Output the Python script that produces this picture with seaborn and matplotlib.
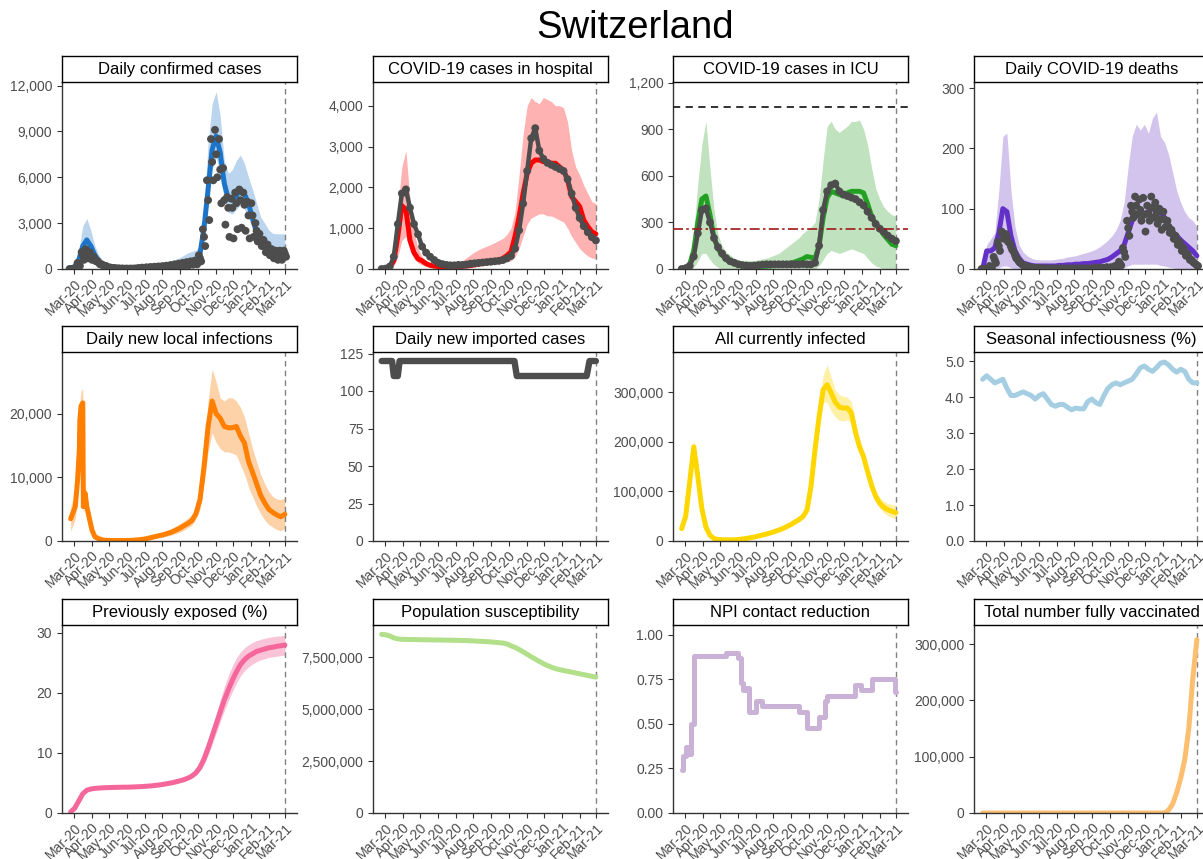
import pandas as pd
import matplotlib
matplotlib.use("Agg")
import matplotlib.pyplot as plt
from matplotlib.ticker import FuncFormatter
import seaborn as sns

sns.set_theme(style="ticks")
plt.rcParams["font.family"] = ["Liberation Sans", "DejaVu Sans"]

# ---------------- data ----------------
# weekly values, Mondays from 24 Feb 2020 to 1 Mar 2021 (54 weeks)
weeks = pd.date_range("2020-02-24", "2021-03-01", freq="7D")
weeks_early = weeks - pd.Timedelta(days=2)
weeks_late = weeks + pd.Timedelta(days=2)
end_date = pd.Timestamp("2021-03-02")
month_ticks = pd.date_range("2020-03-01", "2021-03-01", freq="MS")
month_labels = [d.strftime("%b-%y") for d in month_ticks]

# daily confirmed cases
cases_fit = [20, 150, 600, 1500, 1900, 1500, 900, 500, 300, 180,
             120, 90, 70, 60, 50, 50, 50, 60, 80, 100,
             110, 130, 140, 150, 170, 190, 220, 250, 280, 320,
             360, 400, 1000, 2700, 5200, 7800, 8700, 7600, 5600, 4600,
             4500, 4800, 5200, 4900, 4300, 3300, 2400, 1800, 1450, 1200,
             1050, 1000, 1000, 1050]
cases_hi = [100, 300, 1200, 2800, 3300, 2500, 1500, 900, 500, 350,
            250, 200, 170, 150, 150, 150, 160, 200, 220, 240,
            260, 300, 340, 400, 480, 560, 650, 750, 900, 1050,
            1150, 1250, 1500, 4000, 8200, 10800, 11600, 10000, 7100, 6250,
            6500, 7100, 7450, 6900, 6000, 5200, 4300, 3400, 3000, 2550,
            2330, 2300, 2300, 2300]
cases_lo = [0, 50, 300, 900, 1200, 1000, 600, 300, 180, 100,
            70, 50, 40, 30, 30, 30, 30, 40, 50, 60,
            70, 80, 90, 100, 110, 120, 140, 160, 180, 200,
            230, 260, 700, 2000, 4200, 6500, 7300, 6200, 4500, 3700,
            3600, 3900, 4200, 3900, 3400, 2600, 1900, 1400, 1100, 900,
            750, 700, 650, 650]
cases_obs_weekday = [0, 30, 400, 1100, 1300, 1100, 800, 500, 300, 200,
                     100, 60, 40, 30, 25, 25, 30, 60, 90, 110,
                     130, 150, 170, 190, 220, 260, 300, 350, 400, 450,
                     500, 550, 900, 2600, 5800, 8500, 9100, 8500, 6600, 4700,
                     4600, 5000, 5200, 5000, 4400, 4300, 3000, 2300, 1900, 1600,
                     1300, 1200, 1200, 1200]
cases_obs_mid = [0, 20, 300, 900, 1100, 900, 650, 400, 250, 150,
                 80, 45, 30, 22, 20, 20, 25, 45, 70, 85,
                 100, 115, 130, 145, 170, 200, 235, 275, 315, 350,
                 390, 420, 700, 2100, 4500, 7000, 7500, 6500, 4500, 4000,
                 4000, 4300, 4500, 4200, 3500, 3500, 2500, 1900, 1500, 1300,
                 1000, 900, 900, 1000]
cases_obs_weekend = [0, 10, 200, 600, 700, 600, 500, 300, 200, 100,
                     60, 30, 20, 15, 15, 15, 20, 30, 50, 60,
                     70, 80, 90, 100, 120, 140, 170, 200, 230, 250,
                     280, 300, 500, 1500, 3200, 5800, 6000, 4300, 2900, 2100,
                     2000, 2600, 2700, 2500, 2000, 2100, 1800, 1500, 1100, 900,
                     700, 600, 600, 800]

# hospital
hosp_fit = [0, 10, 50, 200, 800, 1550, 1450, 700, 400, 250,
            200, 130, 90, 70, 60, 50, 50, 50, 55, 60,
            65, 75, 85, 100, 120, 140, 170, 190, 205, 220,
            260, 330, 420, 800, 1280, 1850, 2340, 2590, 2670, 2670,
            2630, 2630, 2590, 2590, 2500, 2420, 2180, 1770, 1650, 1530,
            1200, 1040, 910, 860]
hosp_hi = [0, 20, 100, 700, 1500, 2500, 2900, 1700, 900, 500,
           300, 200, 150, 120, 100, 90, 90, 100, 120, 140,
           200, 280, 350, 420, 470, 520, 560, 600, 650, 700,
           750, 850, 1000, 1400, 2300, 3300, 4000, 4200, 4100, 4050,
           4200, 4150, 4100, 4000, 4000, 3950, 3600, 2900, 2500, 2300,
           2050, 1850, 1650, 1600]
hosp_lo = [0, 0, 10, 80, 300, 700, 800, 500, 250, 150,
           100, 70, 50, 40, 30, 30, 30, 30, 30, 30,
           30, 40, 50, 60, 70, 80, 90, 100, 110, 130,
           150, 180, 200, 300, 500, 800, 1100, 1250, 1300, 1350,
           1350, 1300, 1300, 1250, 1200, 1150, 1000, 800, 650, 500,
           400, 320, 270, 250]
hosp_obs = [0, 10, 60, 300, 1100, 1850, 1950, 1500, 1100, 850,
            550, 400, 300, 220, 150, 120, 100, 90, 90, 100,
            100, 110, 130, 140, 150, 160, 170, 180, 190, 200,
            220, 260, 320, 500, 950, 1600, 2400, 3200, 3450, 2900,
            2700, 2600, 2550, 2500, 2450, 2400, 2200, 1850, 1500, 1250,
            1050, 900, 780, 700]

# ICU
icu_fit = [0, 10, 30, 120, 300, 450, 470, 350, 200, 130,
           90, 60, 45, 35, 30, 22, 18, 15, 15, 15,
           18, 18, 20, 22, 25, 28, 32, 38, 45, 55,
           65, 80, 75, 70, 150, 330, 460, 500, 490, 480,
           470, 490, 500, 500, 500, 490, 420, 340, 290, 260,
           220, 190, 160, 150]
icu_hi = [0, 20, 60, 250, 550, 800, 950, 650, 380, 220,
          150, 110, 90, 70, 60, 55, 55, 55, 55, 60,
          65, 70, 80, 90, 100, 120, 140, 160, 180, 200,
          230, 250, 270, 300, 450, 700, 920, 950, 900, 880,
          900, 920, 950, 950, 960, 900, 800, 650, 520, 450,
          400, 370, 350, 340]
icu_lo = [0, 0, 0, 10, 50, 100, 100, 60, 30, 10,
          0, 0, 0, 0, 0, 0, 0, 0, 0, 0,
          0, 0, 0, 0, 0, 0, 0, 0, 0, 0,
          0, 0, 0, 0, 20, 60, 100, 120, 110, 100,
          110, 120, 130, 120, 110, 100, 70, 40, 20, 10,
          0, 0, 0, 0]
icu_obs = [0, 5, 20, 80, 230, 380, 390, 300, 200, 140,
           100, 70, 50, 40, 30, 25, 22, 20, 22, 25,
           28, 30, 30, 30, 30, 30, 30, 30, 30, 30,
           32, 30, 30, 40, 150, 380, 500, 540, 550, 500,
           480, 470, 460, 450, 430, 410, 370, 330, 290, 260,
           240, 215, 195, 180]
icu_capacity = 1040
icu_threshold = 258

# deaths
deaths_fit = [0, 30, 30, 35, 60, 100, 95, 55, 30, 18,
              10, 8, 6, 5, 5, 5, 5, 5, 5, 6,
              6, 7, 7, 8, 8, 9, 9, 10, 11, 12,
              14, 16, 20, 25, 30, 40, 60, 80, 90, 92,
              92, 95, 100, 100, 95, 85, 72, 62, 55, 48,
              42, 36, 30, 22]
deaths_hi = [5, 40, 50, 60, 130, 220, 225, 130, 70, 40,
             28, 22, 18, 16, 15, 15, 15, 15, 16, 17,
             18, 20, 21, 22, 24, 26, 28, 30, 33, 37,
             42, 48, 55, 65, 80, 110, 170, 220, 240, 230,
             240, 225, 250, 260, 220, 210, 190, 160, 130, 110,
             95, 85, 80, 70]
deaths_lo = [0, 0, 0, 0, 2, 5, 5, 2, 0, 0,
             0, 0, 0, 0, 0, 0, 0, 0, 0, 0,
             0, 0, 0, 0, 0, 0, 0, 0, 0, 0,
             0, 0, 0, 0, 0, 2, 5, 8, 8, 8,
             8, 8, 8, 8, 6, 5, 3, 2, 0, 0,
             0, 0, 0, 0]
deaths_obs_a = [0, 0, 5, 20, 45, 62, 58, 42, 28, 15,
                8, 5, 3, 2, 2, 1, 1, 1, 1, 1,
                1, 1, 1, 1, 1, 1, 1, 1, 2, 2,
                2, 3, 3, 5, 12, 35, 80, 105, 120, 115,
                118, 105, 120, 110, 100, 95, 80, 65, 55, 45,
                35, 25, 15, 8]
deaths_obs_mid = [0, 0, 3, 15, 38, 56, 52, 37, 23, 12,
                  6, 4, 2, 1, 1, 1, 0, 0, 0, 0,
                  0, 0, 0, 1, 0, 0, 1, 0, 1, 1,
                  1, 2, 2, 3, 9, 28, 68, 95, 105, 98,
                  90, 92, 102, 92, 82, 82, 70, 58, 48, 38,
                  28, 20, 12, 6]
deaths_obs_b = [0, 0, 2, 10, 30, 50, 45, 32, 18, 10,
                5, 3, 1, 1, 0, 0, 0, 0, 0, 0,
                0, 0, 0, 0, 0, 0, 0, 0, 0, 0,
                1, 1, 1, 2, 6, 20, 55, 85, 90, 80,
                62, 80, 85, 75, 65, 70, 60, 50, 40, 30,
                22, 15, 10, 5]

# daily new local infections (finer dates around the March 2020 spike)
local_early_dates = ["2020-02-24", "2020-03-03", "2020-03-07", "2020-03-10",
                     "2020-03-11", "2020-03-13", "2020-03-16", "2020-03-17",
                     "2020-03-20", "2020-03-23", "2020-03-28", "2020-04-01"]
local_early_fit = [3500, 5400, 9600, 14300, 19100, 21200, 21700, 5400, 7500, 5400, 3300, 1700]
local_early_hi = [5500, 7500, 12000, 17500, 22000, 23500, 24000, 7000, 9000, 6500, 4000, 2200]
local_early_lo = [1500, 3500, 7000, 11000, 15000, 17500, 18000, 4200, 6000, 4300, 2600, 1300]
local_fit = [650, 350, 150, 100,
             80, 70, 70, 70, 80, 100, 150, 200, 280, 400,
             550, 700, 850, 1000, 1200, 1400, 1700, 2000, 2400, 2750,
             3200, 4300, 6500, 11700, 18000, 22000, 20000, 19300, 18000, 17800,
             17800, 18000, 16500, 15400, 12500, 10800, 9000, 7200, 6000, 5000,
             4500, 4100, 3800, 4200]
local_hi = [1000, 550, 250, 150,
            120, 100, 100, 110, 130, 170, 250, 350, 480, 650,
            850, 1050, 1250, 1450, 1700, 2000, 2300, 2700, 3100, 3600,
            4100, 5300, 8000, 14000, 22000, 27000, 25000, 22500, 22000, 22500,
            22500, 22000, 21000, 19500, 17000, 14500, 12500, 10500, 9000, 7800,
            7000, 6600, 6500, 6800]
local_lo = [400, 200, 80, 50,
            40, 40, 40, 40, 50, 60, 100, 130, 180, 260,
            350, 450, 550, 650, 800, 950, 1150, 1400, 1700, 2100,
            2500, 3500, 5000, 9000, 14000, 17000, 15500, 14500, 14000, 14000,
            13800, 13500, 12000, 10500, 8500, 7000, 5500, 4300, 3300, 2600,
            2200, 1800, 1600, 2000]

# daily new imported cases
imported_dates = ["2020-02-24", "2020-03-13", "2020-03-16", "2020-03-23", "2020-03-26",
                  "2020-10-11", "2020-10-15", "2021-02-13", "2021-02-18", "2021-03-01"]
imported_vals = [120, 120, 110, 110, 120, 120, 110, 110, 120, 120]

# all currently infected
infected_fit = [25000, 50000, 120000, 190000, 130000, 65000, 28000, 11500, 5000, 3000,
                2500, 2300, 2300, 2500, 3000, 4000, 5000, 6500, 8000, 10000,
                12000, 14000, 16500, 19000, 22000, 25000, 29000, 33000, 38000, 43000,
                49000, 62000, 110000, 185000, 250000, 305000, 315000, 298000, 280000, 270000,
                268000, 268000, 258000, 219000, 190000, 170000, 140000, 112000, 90000, 76000,
                68000, 63000, 60000, 57000]
infected_hi = [28000, 55000, 128000, 205000, 140000, 70000, 31000, 13000, 6000, 3500,
               3000, 2800, 2800, 3000, 3500, 4500, 5500, 7000, 8800, 11000,
               13000, 15500, 18000, 21000, 24000, 27500, 32000, 36000, 41000, 47000,
               53000, 68000, 120000, 200000, 275000, 335000, 355000, 330000, 305000, 295000,
               292000, 290000, 280000, 240000, 205000, 182000, 150000, 120000, 100000, 88000,
               80000, 76000, 74000, 72000]
infected_lo = [22000, 45000, 112000, 180000, 120000, 60000, 25000, 10000, 4000, 2500,
               2000, 1800, 1800, 2000, 2500, 3500, 4500, 6000, 7200, 9000,
               11000, 12500, 15000, 17000, 20000, 22500, 26000, 30000, 35000, 39000,
               45000, 56000, 100000, 170000, 225000, 280000, 280000, 262000, 250000, 243000,
               242000, 244000, 238000, 200000, 175000, 156000, 128000, 100000, 80000, 66000,
               57000, 51000, 47000, 45000]

# seasonal infectiousness (%)
seasonal = [4.5, 4.6, 4.5, 4.4, 4.45, 4.5, 4.25, 4.05, 4.05, 4.1,
            4.15, 4.1, 4.05, 3.95, 4.05, 4.1, 3.95, 3.8, 3.75, 3.8,
            3.8, 3.72, 3.65, 3.7, 3.68, 3.68, 3.88, 3.95, 3.85, 3.8,
            4.05, 4.25, 4.35, 4.4, 4.35, 4.4, 4.45, 4.5, 4.65, 4.82,
            4.87, 4.78, 4.72, 4.82, 4.95, 4.98, 4.9, 4.78, 4.7, 4.78,
            4.72, 4.5, 4.4, 4.4]

# previously exposed (%)
exposed_fit = [0.2, 0.8, 2.0, 3.2, 3.8, 4.0, 4.1, 4.15, 4.2, 4.22,
               4.25, 4.27, 4.28, 4.3, 4.3, 4.32, 4.35, 4.38, 4.42, 4.47,
               4.52, 4.6, 4.68, 4.78, 4.9, 5.02, 5.18, 5.35, 5.55, 5.8,
               6.15, 6.7, 7.6, 9.0, 10.8, 12.8, 14.8, 16.8, 18.8, 20.5,
               22.1, 23.5, 24.7, 25.5, 26.1, 26.5, 26.9, 27.1, 27.3, 27.5,
               27.6, 27.75, 27.85, 27.95]
exposed_hi = [0.3, 0.9, 2.2, 3.4, 4.0, 4.2, 4.3, 4.35, 4.4, 4.42,
              4.45, 4.47, 4.48, 4.5, 4.5, 4.52, 4.55, 4.58, 4.62, 4.67,
              4.72, 4.8, 4.88, 4.98, 5.1, 5.22, 5.38, 5.55, 5.75, 6.0,
              6.4, 7.1, 8.3, 10.0, 12.0, 14.2, 16.5, 18.8, 21.0, 22.9,
              24.5, 25.8, 26.8, 27.5, 28.0, 28.4, 28.7, 28.9, 29.1, 29.25,
              29.35, 29.45, 29.5, 29.6]
exposed_lo = [0.1, 0.7, 1.8, 3.0, 3.6, 3.8, 3.9, 3.95, 4.0, 4.02,
              4.05, 4.07, 4.08, 4.1, 4.1, 4.12, 4.15, 4.18, 4.22, 4.27,
              4.32, 4.4, 4.48, 4.58, 4.7, 4.82, 4.98, 5.15, 5.35, 5.6,
              5.9, 6.3, 7.0, 8.1, 9.6, 11.4, 13.3, 15.2, 17.0, 18.7,
              20.2, 21.6, 22.8, 23.7, 24.3, 24.8, 25.2, 25.5, 25.7, 25.9,
              26.0, 26.1, 26.2, 26.3]

# population susceptibility
susceptible = [8600000, 8580000, 8520000, 8430000, 8380000, 8360000, 8355000, 8350000, 8350000, 8345000,
               8340000, 8340000, 8335000, 8330000, 8330000, 8325000, 8320000, 8320000, 8315000, 8310000,
               8305000, 8300000, 8290000, 8280000, 8270000, 8260000, 8250000, 8235000, 8220000, 8200000,
               8180000, 8140000, 8050000, 7970000, 7870000, 7760000, 7640000, 7520000, 7410000, 7300000,
               7190000, 7100000, 7020000, 6950000, 6900000, 6860000, 6820000, 6780000, 6740000, 6700000,
               6660000, 6620000, 6580000, 6540000]

# NPI contact reduction (step changes)
npi_dates = ["2020-02-24", "2020-02-27", "2020-03-02", "2020-03-06", "2020-03-12", "2020-03-16",
             "2020-05-11", "2020-06-01", "2020-06-06", "2020-06-10", "2020-06-14", "2020-06-20",
             "2020-07-02", "2020-07-13", "2020-09-14", "2020-09-28", "2020-10-19", "2020-10-30",
             "2020-11-02", "2020-12-21", "2020-12-31", "2021-01-18", "2021-02-27", "2021-03-01"]
npi_vals = [0.24, 0.32, 0.37, 0.33, 0.50, 0.88,
            0.90, 0.87, 0.73, 0.69, 0.70, 0.57,
            0.63, 0.60, 0.57, 0.48, 0.54, 0.63,
            0.66, 0.72, 0.69, 0.75, 0.68, 0.68]

# total number fully vaccinated
vacc_dates = ["2020-02-24", "2021-01-04", "2021-01-11", "2021-01-18", "2021-01-25",
              "2021-02-01", "2021-02-08", "2021-02-15", "2021-02-22", "2021-03-01"]
vacc_vals = [0, 0, 5000, 16000, 36000, 62000, 95000, 150000, 240000, 308000]

# ---------------- layout ----------------
W, H = 1203, 859
fig = plt.figure(figsize=(W / 100, H / 100), dpi=100)
col_left = [62, 373, 673, 974]
row_top = [82, 352, 625]
row_bottom = [269, 541, 813]
ax_w = 235
strip_h = 26
x_start, x_end = pd.Timestamp("2020-02-09"), pd.Timestamp("2021-03-22")
DOT = "#4D4D4D"


def make_axes(row, col, title):
    l, t, b = col_left[col], row_top[row], row_bottom[row]
    ax = fig.add_axes([l / W, 1 - b / H, ax_w / W, (b - t) / H])
    st = fig.add_axes([l / W, 1 - t / H, ax_w / W, strip_h / H])
    st.set_xticks([])
    st.set_yticks([])
    st.set_facecolor("white")
    for s in st.spines.values():
        s.set_color("black")
        s.set_linewidth(1.0)
    st.text(0.5, 0.47, title, ha="center", va="center", fontsize=12,
            color="black", transform=st.transAxes)
    return ax


def finish(ax, ymax, yticks, fmt="{:,.0f}"):
    ax.axvline(end_date, color="#808080", lw=1.0, ls=(0, (4, 3)), zorder=1)
    ax.set_xlim(x_start, x_end)
    ax.set_ylim(0, ymax)
    ax.set_yticks(yticks)
    ax.yaxis.set_major_formatter(FuncFormatter(lambda v, p: fmt.format(v)))
    ax.set_xticks(month_ticks)
    ax.set_xticklabels(month_labels, rotation=45, ha="right", rotation_mode="anchor")
    ax.set_xlabel("")
    ax.set_ylabel("")
    sns.despine(ax=ax)
    for s in ["left", "bottom"]:
        ax.spines[s].set_color("#333333")
        ax.spines[s].set_linewidth(1.0)
    ax.tick_params(axis="both", colors="#333333", labelcolor="#4D4D4D",
                   length=3.5, width=0.8, labelsize=10)
    ax.tick_params(axis="x", labelsize=10, pad=2)


def band(ax, x, lo, hi, color):
    ax.fill_between(x, lo, hi, color=color, lw=0, zorder=1)


def line(ax, x, y, color, lw=3.6, **kw):
    sns.lineplot(x=x, y=y, ax=ax, color=color, linewidth=lw, legend=False, zorder=2, **kw)


def dots(ax, x, y, s=32):
    sns.scatterplot(x=x, y=y, ax=ax, color=DOT, s=s, edgecolor="none", linewidth=0,
                    legend=False, zorder=3)


# row 1
ax = make_axes(0, 0, "Daily confirmed cases")
band(ax, weeks, cases_lo, cases_hi, "#BBD5EE")
line(ax, weeks, cases_fit, "#1C75C8")
dots(ax, weeks_early, cases_obs_weekday)
dots(ax, weeks, cases_obs_mid)
dots(ax, weeks_late, cases_obs_weekend)
finish(ax, 12230, [0, 3000, 6000, 9000, 12000])

ax = make_axes(0, 1, "COVID-19 cases in hospital")
band(ax, weeks, hosp_lo, hosp_hi, "#FFB2B2")
line(ax, weeks, hosp_fit, "#FF0000")
line(ax, weeks, hosp_obs, DOT, lw=3.2)
dots(ax, weeks, hosp_obs)
finish(ax, 4580, [0, 1000, 2000, 3000, 4000])

ax = make_axes(0, 2, "COVID-19 cases in ICU")
band(ax, weeks, icu_lo, icu_hi, "#C0E2BE")
line(ax, weeks, icu_fit, "#22A022")
line(ax, weeks, icu_obs, DOT, lw=3.2)
dots(ax, weeks, icu_obs)
ax.axhline(icu_capacity, color="#222222", lw=1.3, ls=(0, (4, 3)), zorder=4)
ax.axhline(icu_threshold, color="#A01818", lw=1.2, ls=(0, (6, 2, 1.5, 2)), zorder=4)
finish(ax, 1204, [0, 300, 600, 900, 1200])

ax = make_axes(0, 3, "Daily COVID-19 deaths")
band(ax, weeks, deaths_lo, deaths_hi, "#D3C4EE")
line(ax, weeks, deaths_fit, "#6431C8")
dots(ax, weeks_early, deaths_obs_a)
dots(ax, weeks, deaths_obs_mid)
dots(ax, weeks_late, deaths_obs_b)
finish(ax, 310, [0, 100, 200, 300])

# row 2
local_dates = list(pd.to_datetime(local_early_dates)) + list(weeks[6:])
ax = make_axes(1, 0, "Daily new local infections")
band(ax, local_dates, local_early_lo + local_lo, local_early_hi + local_hi, "#FDD2A8")
line(ax, local_dates, local_early_fit + local_fit, "#FF7F00")
finish(ax, 29700, [0, 10000, 20000])

ax = make_axes(1, 1, "Daily new imported cases")
line(ax, pd.to_datetime(imported_dates), imported_vals, DOT, lw=4.6)
finish(ax, 126, [0, 25, 50, 75, 100, 125])

ax = make_axes(1, 2, "All currently infected")
band(ax, weeks, infected_lo, infected_hi, "#FFF0A8")
line(ax, weeks, infected_fit, "#FFD700")
finish(ax, 381000, [0, 100000, 200000, 300000])

ax = make_axes(1, 3, "Seasonal infectiousness (%)")
line(ax, weeks, seasonal, "#A6CEE3")
finish(ax, 5.26, [0, 1, 2, 3, 4, 5], fmt="{:.1f}")

# row 3
ax = make_axes(2, 0, "Previously exposed (%)")
band(ax, weeks, exposed_lo, exposed_hi, "#F9C4D8")
line(ax, weeks, exposed_fit, "#F5679A")
finish(ax, 31.3, [0, 10, 20, 30])

ax = make_axes(2, 1, "Population susceptibility")
line(ax, weeks, susceptible, "#B2DF8A")
finish(ax, 9050000, [0, 2500000, 5000000, 7500000])

ax = make_axes(2, 2, "NPI contact reduction")
line(ax, pd.to_datetime(npi_dates), npi_vals, "#CAB2D6", drawstyle="steps-post")
finish(ax, 1.056, [0, 0.25, 0.5, 0.75, 1.0], fmt="{:.2f}")

ax = make_axes(2, 3, "Total number fully vaccinated")
line(ax, pd.to_datetime(vacc_dates), vacc_vals, "#FDBF6F")
finish(ax, 334000, [0, 100000, 200000, 300000])

fig.text(635 / W, 1 - 28 / H, "Switzerland", ha="center", va="center", fontsize=27.5, color="black")

fig.savefig("out.png", dpi=100)
